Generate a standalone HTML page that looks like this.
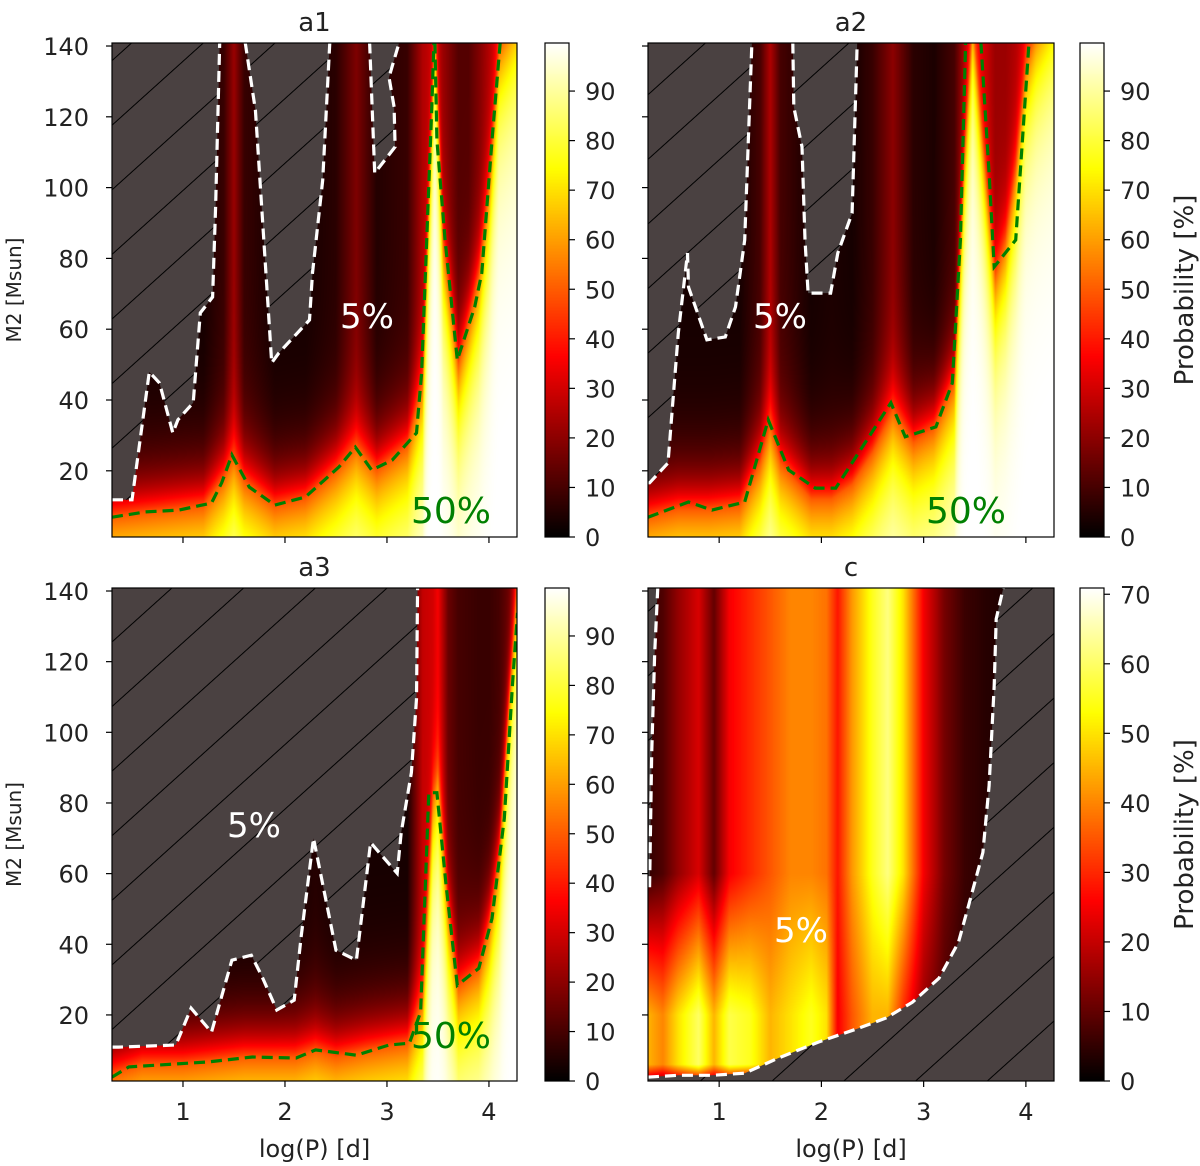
<!DOCTYPE html>
<html><head><meta charset="utf-8">
<style>
html,body{margin:0;padding:0;background:#fff;}
#wrap{position:relative;width:1200px;height:1166px;overflow:hidden;font-family:"DejaVu Sans","Liberation Sans",sans-serif;}
canvas{position:absolute;}
svg{position:absolute;left:0;top:0;}
</style></head>
<body>
<div id="wrap">
<canvas id="h_a1" width="405" height="494" style="left:112px;top:43px"></canvas>
<canvas id="h_a2" width="406" height="494" style="left:648px;top:43px"></canvas>
<canvas id="h_a3" width="405" height="493" style="left:112px;top:588px"></canvas>
<canvas id="h_c" width="406" height="493" style="left:648px;top:588px"></canvas>
<canvas id="cb_a1" width="24" height="494" style="left:545px;top:43px"></canvas>
<canvas id="cb_a2" width="24" height="494" style="left:1080px;top:43px"></canvas>
<canvas id="cb_a3" width="24" height="493" style="left:545px;top:588px"></canvas>
<canvas id="cb_c" width="24" height="493" style="left:1080px;top:588px"></canvas>
<svg id="ov" width="1200" height="1166" xmlns="http://www.w3.org/2000/svg">
<defs>
<pattern id="hatch" patternUnits="userSpaceOnUse" width="48" height="48" patternTransform="rotate(-42)">
<rect width="48" height="48" fill="#4a4141"/>
<line x1="0" y1="24" x2="48" y2="24" stroke="#000" stroke-width="1"/>
</pattern>
</defs>
</svg>
</div>
<script>
// ---------- data ----------
const X_RANGE = [0.304, 4.275];
const Y_RANGE = [1.3, 140.85];
// column profiles for a-panels: [logP, M2 at 50% level, far-field probability]
const a1Cols = [0.3,0.6,0.9,1.2,1.4,1.5,1.6,1.9,2.2,2.5,2.7,2.9,3.2,3.35,3.47,3.55,3.7,3.8,3.9,4.0,4.1,4.27];
const a1M50 = [7,8,9,10,18,24,17,10,12,20,27,20,27,45,148,85,50,62,75,100,140,150];
const a1Floor = [3,3,3,3,8,22,8,3,3,6,18,5,8,25,30,22,12,12,18,25,32,45];
const a2Cols = [0.3,0.6,0.9,1.2,1.4,1.5,1.6,1.9,2.1,2.3,2.5,2.7,2.9,3.1,3.3,3.4,3.48,3.56,3.62,3.7,3.8,3.9,4.0,4.1,4.27];
const a2M50 = [7,9,9,10,22,33,22,12,12,16,25,37,28,32,45,110,148,120,100,75,85,105,135,145,155];
const a2Floor = [3,3,3,3,10,25,10,3,4,3,8,20,6,4,10,25,35,30,28,22,22,25,30,38,45];
const a3Cols = [0.3,0.6,1.0,1.3,1.6,1.9,2.1,2.3,2.5,2.8,3.0,3.2,3.35,3.45,3.5,3.6,3.7,3.9,4.0,4.1,4.2,4.27];
const a3M50 = [3,6,6,7,8,8,8,10,8,10,11,12,25,82,90,50,28,33,45,65,110,140];
const a3Floor = [2,2,2,2,2,2,3,5,3,3,3,3,28,30,35,15,10,8,8,10,15,25];
// panel c: probability at high mass and at low mass (~20 Msun)
const cCols = [0.3,0.45,0.6,0.8,0.95,1.1,1.3,1.5,1.7,1.9,2.05,2.16,2.3,2.5,2.65,2.8,3.0,3.2,3.4,3.6,3.8,4.27];
const cTop = [5,8,15,22,10,25,30,35,40,40,38,28,42,55,62,50,25,12,6,4,3,3];
const cLow = [45,40,50,60,45,58,55,45,50,55,50,25,35,45,45,30,15,8,4,3,3,3];
// contours [logP, M2]
const a1White = [[[0.304,11.8],[0.50,11.8],[0.67,47.9],[0.77,44.8],[0.90,30.7],[0.95,34.4],[1.10,39.2],[1.17,64.6],[1.29,69.1],[1.32,94.5],[1.36,141]],
 [[1.61,141],[1.71,121.9],[1.75,104.1],[1.87,50.5],[1.94,53.3],[2.24,62.6],[2.27,75.9],[2.37,102.1],[2.44,141]],
 [[2.83,141],[2.88,104.1],[3.08,111.5],[3.07,122.8],[3.02,131.2],[3.12,141]]];
const a1Green = [[[0.304,6.9],[0.63,8.4],[0.96,8.9],[1.28,10.9],[1.38,16.6],[1.48,24.5],[1.65,15.4],[1.90,10.3],[2.20,12.6],[2.53,21.1],[2.69,26.7],[2.85,20.2],[3.05,23.0],[3.29,30.7],[3.34,47.6],[3.39,85.2],[3.44,122.8],[3.46,141]],
 [[3.47,141],[3.49,113.4],[3.57,85.2],[3.69,51.3],[3.86,66.3],[3.93,75.9],[4.03,113.4],[4.11,141]]];
const a2White = [[[0.304,16.6],[0.32,16.6],[0.50,22.2],[0.60,58.9],[0.69,81.5],[0.70,71.9],[0.88,57.0],[1.06,57.8],[1.16,66.3],[1.25,85.2],[1.32,141]],
 [[1.72,141],[1.73,122.8],[1.81,111.5],[1.84,85.2],[1.87,70.2],[2.09,70.2],[2.16,81.5],[2.30,92.8],[2.35,141]]];
const a2Green = [[[0.304,6.9],[0.70,11.2],[0.93,8.9],[1.25,11.2],[1.48,34.4],[1.68,20.2],[1.94,15.1],[2.14,15.1],[2.68,39.2],[2.82,29.6],[3.12,32.4],[3.28,44.8],[3.36,85.2],[3.41,141]],
 [[3.56,141],[3.64,104.1],[3.69,77.6],[3.90,85.2],[4.03,141]]];
const a3White = [[[0.304,10.9],[0.37,10.9],[0.93,11.5],[1.08,21.9],[1.28,15.1],[1.48,35.5],[1.67,36.9],[1.77,31.2],[1.92,21.4],[2.09,24.2],[2.16,42.5],[2.28,70.0],[2.50,38.3],[2.70,35.5],[2.84,68.8],[2.89,67.1],[3.10,60.1],[3.14,71.6],[3.24,88.6],[3.29,109.5],[3.30,141]]];
const a3Green = [[[0.304,2.4],[0.47,5.3],[1.25,6.7],[1.68,8.1],[2.11,7.8],[2.30,10.1],[2.70,8.6],[3.02,11.5],[3.22,12.0],[3.33,20.8],[3.41,82.9],[3.49,82.9],[3.58,56.7],[3.69,28.4],[3.90,33.2],[4.03,47.3],[4.15,75.6],[4.23,113.2],[4.28,133.8]]];
const cWhite = [[[0.304,56.6],[0.32,56.6],[0.34,94.1],[0.37,122.5],[0.40,141]],
 [[0.304,2.4],[0.60,2.9],[0.93,2.9],[1.25,3.5],[1.58,7.8],[1.97,12.3],[2.36,16.2],[2.63,19.1],[2.89,23.6],[3.15,30.4],[3.34,40.5],[3.44,51.0],[3.58,66.0],[3.64,84.9],[3.69,113.2],[3.71,132.1],[3.78,141]]];
const xTicks = [1,2,3,4];
const yTicks = [20,40,60,80,100,120,140];
const cbTicksA = [0,10,20,30,40,50,60,70,80,90];
const cbTicksC = [0,10,20,30,40,50,60,70];

// ---------- helpers ----------
const NS = "http://www.w3.org/2000/svg";
const ov = document.getElementById('ov');
function interp(xs, ys, x){
  if (x <= xs[0]) return ys[0];
  for (let i=1;i<xs.length;i++){ if (x<=xs[i]){const t=(x-xs[i-1])/(xs[i]-xs[i-1]);return ys[i-1]+t*(ys[i]-ys[i-1]);} }
  return ys[ys.length-1];
}
function hot(t){
  t=Math.max(0,Math.min(1,t));
  const r=Math.min(1,t/0.365), g=Math.max(0,Math.min(1,(t-0.365)/0.381)), b=Math.max(0,Math.min(1,(t-0.746)/0.254));
  return [r*255,g*255,b*255];
}
function mk(tag, attrs, parent){ const e=document.createElementNS(NS,tag); for(const k in attrs) e.setAttribute(k,attrs[k]); (parent||ov).appendChild(e); return e; }
function panel(x0,y0,w,h){
  return { x0,y0,w,h,
    sx: v => x0 + (v-X_RANGE[0])/(X_RANGE[1]-X_RANGE[0])*w,
    sy: v => y0 + (Y_RANGE[1]-v)/(Y_RANGE[1]-Y_RANGE[0])*h };
}
const P = { a1: panel(112,43,405,494), a2: panel(648,43,406,494), a3: panel(112,588,405,493), c: panel(648,588,406,493) };

function drawHeatA(id, cols, m50s, floors){
  const cv=document.getElementById(id), ctx=cv.getContext('2d');
  const W=cv.width,H=cv.height, img=ctx.createImageData(W,H);
  for(let i=0;i<W;i++){
    const x = X_RANGE[0]+(i+0.5)/W*(X_RANGE[1]-X_RANGE[0]);
    const m50=interp(cols,m50s,x), fl=interp(cols,floors,x);
    for(let j=0;j<H;j++){
      const M = Y_RANGE[1]-(j+0.5)/H*(Y_RANGE[1]-Y_RANGE[0]);
      let p;
      if (M>=m50) p = fl + (50-fl)*Math.exp(-(M-m50)/10);
      else p = 50 + 50*(1-Math.exp(-(m50-M)/22));
      const c=hot(p/99.7), k=(j*W+i)*4;
      img.data[k]=c[0];img.data[k+1]=c[1];img.data[k+2]=c[2];img.data[k+3]=255;
    }
  }
  ctx.putImageData(img,0,0);
}
function drawHeatC(){
  const cv=document.getElementById('h_c'), ctx=cv.getContext('2d');
  const W=cv.width,H=cv.height,img=ctx.createImageData(W,H);
  for(let i=0;i<W;i++){
    const x = X_RANGE[0]+(i+0.5)/W*(X_RANGE[1]-X_RANGE[0]);
    const pt=interp(cCols,cTop,x), pl=interp(cCols,cLow,x);
    for(let j=0;j<H;j++){
      const M = Y_RANGE[1]-(j+0.5)/H*(Y_RANGE[1]-Y_RANGE[0]);
      let p;
      if (M>60) p=pt; else if (M>20) p=pl+(pt-pl)*(M-20)/40; else p=pl;
      if (M<6) p = p*(0.35+0.65*(M-1.3)/4.7);
      const c=hot(p/70.9), k=(j*W+i)*4;
      img.data[k]=c[0];img.data[k+1]=c[1];img.data[k+2]=c[2];img.data[k+3]=255;
    }
  }
  ctx.putImageData(img,0,0);
}
function drawCB(id){
  const cv=document.getElementById(id), ctx=cv.getContext('2d');
  for(let j=0;j<cv.height;j++){ const c=hot(1-j/cv.height); ctx.fillStyle=`rgb(${c[0]|0},${c[1]|0},${c[2]|0})`; ctx.fillRect(0,j,cv.width,1); }
}
drawHeatA('h_a1',a1Cols,a1M50,a1Floor);
drawHeatA('h_a2',a2Cols,a2M50,a2Floor);
drawHeatA('h_a3',a3Cols,a3M50,a3Floor);
drawHeatC();
['cb_a1','cb_a2','cb_a3','cb_c'].forEach(drawCB);

function pts(p, arr){ return arr.map(d=>p.sx(d[0]).toFixed(1)+','+p.sy(d[1]).toFixed(1)).join(' '); }
let clipN=0;
function clip(p){
  const id='clip'+(clipN++);
  const cp=mk('clipPath',{id}); mk('rect',{x:p.x0,y:p.y0,width:p.w,height:p.h},cp);
  return id;
}
function hatchPoly(p, arr, cid, name){
  const e=mk('polygon',{points:pts(p,arr),fill:'url(#hatch)','clip-path':`url(#${cid})`});
  
  
}
function line(p, arr, color, cid, name){
  const e=mk('polyline',{points:pts(p,arr),fill:'none',stroke:color,'stroke-width':3.2,'stroke-dasharray':'11,6','clip-path':`url(#${cid})`});
  
  
}
const TOPY=142, LEFTX=0.25, RIGHTX=4.35, BOTY=0;
let c1=clip(P.a1);
hatchPoly(P.a1, [[LEFTX,a1White[0][0][1]], ...a1White[0], [LEFTX,TOPY]], c1, 'low-prob-region-a1');
hatchPoly(P.a1, a1White[1], c1, 'low-prob-pocket-a1');
hatchPoly(P.a1, a1White[2], c1, 'low-prob-pocket-a1');
a1White.forEach(s=>line(P.a1,s,'#fff',c1,'contour-5pct-a1'));
a1Green.forEach(s=>line(P.a1,s,'#008000',c1,'contour-50pct-a1'));
let c2=clip(P.a2);
hatchPoly(P.a2, [[LEFTX,a2White[0][0][1]], ...a2White[0], [LEFTX,TOPY]], c2, 'low-prob-region-a2');
hatchPoly(P.a2, a2White[1], c2, 'low-prob-pocket-a2');
a2White.forEach(s=>line(P.a2,s,'#fff',c2,'contour-5pct-a2'));
a2Green.forEach(s=>line(P.a2,s,'#008000',c2,'contour-50pct-a2'));
let c3=clip(P.a3);
hatchPoly(P.a3, [[LEFTX,a3White[0][0][1]], ...a3White[0], [LEFTX,TOPY]], c3, 'low-prob-region-a3');
a3White.forEach(s=>line(P.a3,s,'#fff',c3,'contour-5pct-a3'));
a3Green.forEach(s=>line(P.a3,s,'#008000',c3,'contour-50pct-a3'));
let c4=clip(P.c);
hatchPoly(P.c, [[LEFTX,cWhite[0][0][1]], ...cWhite[0], [LEFTX,TOPY]], c4, 'low-prob-sliver-c');
hatchPoly(P.c, [[LEFTX,cWhite[1][0][1]], ...cWhite[1], [RIGHTX,TOPY],[RIGHTX,BOTY],[LEFTX,BOTY]], c4, 'low-prob-region-c');
cWhite.forEach(s=>line(P.c,s,'#fff',c4,'contour-5pct-c'));

function txt(x,y,s,attrs,name){
  const e=mk('text',Object.assign({x,y,'font-family':'DejaVu Sans, Liberation Sans, sans-serif','font-size':24,fill:'#222'},attrs));
  e.textContent=s;
  
  
  return e;
}
const panels=[['a1',P.a1,true,false],['a2',P.a2,false,false],['a3',P.a3,true,true],['c',P.c,false,true]];
panels.forEach(([nm,p,left,bottom])=>{
  mk('rect',{x:p.x0,y:p.y0,width:p.w,height:p.h,fill:'none',stroke:'#000','stroke-width':1.2});
  txt(p.x0+p.w/2, p.y0-12, nm, {'text-anchor':'middle','font-size':26}, 'panel-title-'+nm);
  yTicks.forEach(v=>{
    const y=p.sy(v);
    mk('line',{x1:p.x0-6,y1:y,x2:p.x0,y2:y,stroke:'#000','stroke-width':1.2});
    if(left) txt(p.x0-23,y+9,String(v),{'text-anchor':'end'},'y-tick-label');
  });
  xTicks.forEach(v=>{
    const x=p.sx(v);
    mk('line',{x1:x,y1:p.y0+p.h,x2:x,y2:p.y0+p.h+6,stroke:'#000','stroke-width':1.2});
    if(bottom) txt(x,1120,String(v),{'text-anchor':'middle'},'x-tick-label');
  });
  if(left){
    txt(0,0,'M2 [Msun]',{'text-anchor':'middle','font-size':20,transform:`translate(21,${p.y0+p.h/2}) rotate(-90)`},'y-axis-title');
  }
  if(bottom) txt(p.x0+p.w/2, 1157, 'log(P) [d]', {'text-anchor':'middle'}, 'x-axis-title');
});
[['a1',545,43,494,99.7,cbTicksA,false],['a2',1080,43,494,99.7,cbTicksA,true],['a3',545,588,493,99.7,cbTicksA,false],['c',1080,588,493,70.9,cbTicksC,true]].forEach(([nm,x,y,h,mx,ticks,lab])=>{
  mk('rect',{x,y,width:24,height:h,fill:'none',stroke:'#000','stroke-width':1.2});
  ticks.forEach(v=>{
    const ty=y+h-v/mx*h;
    mk('line',{x1:x+24,y1:ty,x2:x+30,y2:ty,stroke:'#000','stroke-width':1.2});
    txt(x+40,ty+9,String(v),{},'colorbar-tick-'+nm);
  });
  if(lab) txt(0,0,'Probability [%]',{'text-anchor':'middle','font-size':26,transform:`translate(1193,${y+h/2}) rotate(-90)`},'colorbar-title-'+nm);
});
txt(367,328,'5%',{'text-anchor':'middle','font-size':34,fill:'#fff'},'label-5pct-a1');
txt(451,523,'50%',{'text-anchor':'middle','font-size':36,fill:'#008000'},'label-50pct-a1');
txt(780,328,'5%',{'text-anchor':'middle','font-size':34,fill:'#fff'},'label-5pct-a2');
txt(966,523,'50%',{'text-anchor':'middle','font-size':36,fill:'#008000'},'label-50pct-a2');
txt(254,837,'5%',{'text-anchor':'middle','font-size':34,fill:'#fff'},'label-5pct-a3');
txt(451,1048,'50%',{'text-anchor':'middle','font-size':36,fill:'#008000'},'label-50pct-a3');
txt(801,942,'5%',{'text-anchor':'middle','font-size':34,fill:'#fff'},'label-5pct-c');
</script>
</body></html>
